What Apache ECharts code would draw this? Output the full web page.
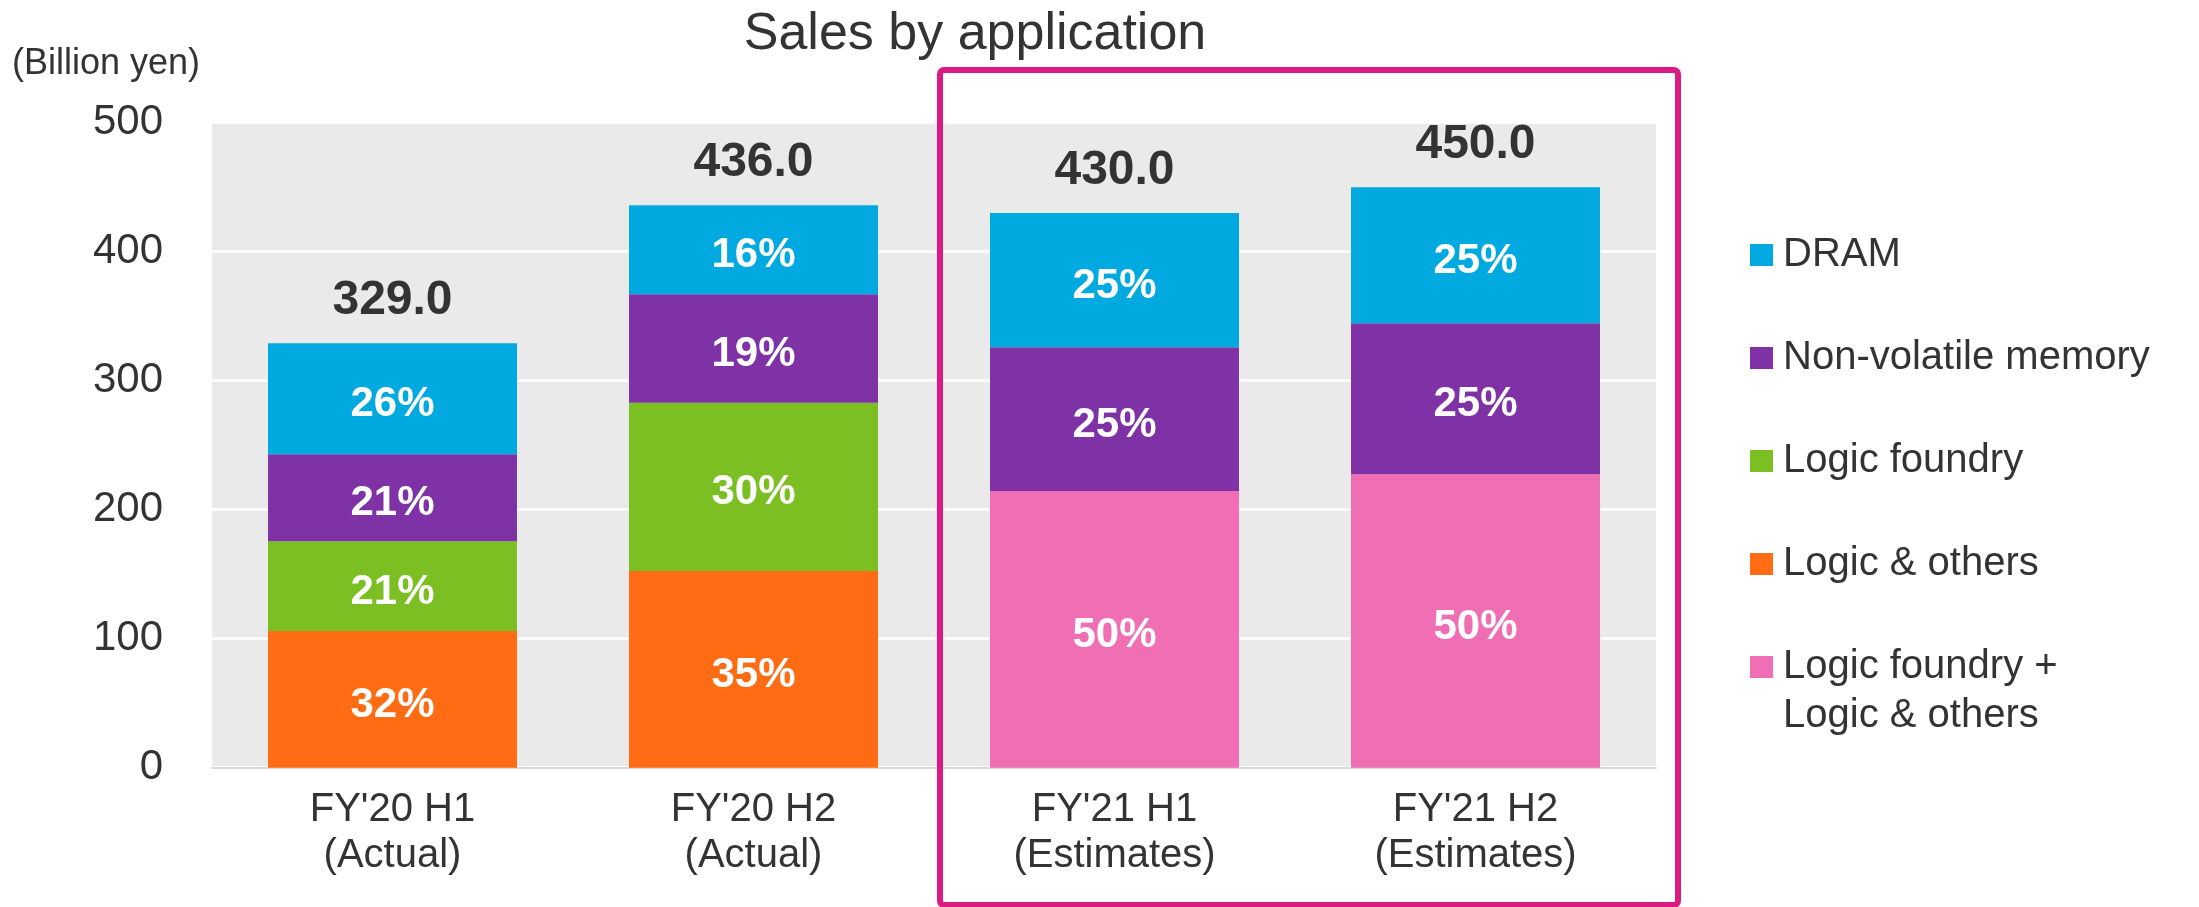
<!DOCTYPE html>
<html>
<head>
<meta charset="utf-8">
<title>Sales by application</title>
<script src="https://cdn.jsdelivr.net/npm/echarts@6/dist/echarts.min.js"></script>
<style>
  html, body { margin: 0; padding: 0; background: #fff; }
  #chart { width: 2199px; height: 907px; }
</style>
</head>
<body>
<div id="chart"></div>
<script>
  // categories and values (billion yen)
  var categories = ["FY'20 H1\n(Actual)", "FY'20 H2\n(Actual)", "FY'21 H1\n(Estimates)", "FY'21 H2\n(Estimates)"];
  var logicOthers = [106, 152.5, null, null];
  var logicFoundry = [69.5, 130.5, null, null];
  var logicCombined = [null, null, 214.5, 227.5];
  var nonVolatile = [67.5, 84, 111.5, 117];
  var dram = [86, 69, 104, 105.5];
  var totals = [329.0, 436.0, 430.0, 450.0];

  // shares printed on the bars (%)
  var logicOthersPct = [32, 35, null, null];
  var logicFoundryPct = [21, 30, null, null];
  var logicCombinedPct = [null, null, 50, 50];
  var nonVolatilePct = [21, 19, 25, 25];
  var dramPct = [26, 16, 25, 25];

  var yTicks = [0, 100, 200, 300, 400, 500];

  var FONT = '"Liberation Sans", Arial, sans-serif';
  var COMBINED = 'Logic foundry + Logic & others';

  function pctLabel(pcts) {
    return {
      show: true,
      position: 'inside',
      offset: [0, 6],
      color: '#fff',
      fontFamily: FONT,
      fontWeight: 'bold',
      fontSize: 42,
      formatter: function (p) { return pcts[p.dataIndex] == null ? '' : pcts[p.dataIndex] + '%'; }
    };
  }

  function barSeries(name, data, pcts, color) {
    return {
      name: name,
      type: 'bar',
      stack: 'sales',
      barWidth: 249,
      data: data,
      itemStyle: { color: color },
      label: pctLabel(pcts)
    };
  }

  var myChart = echarts.init(document.getElementById('chart'));
  myChart.setOption({
    animation: false,
    textStyle: { fontFamily: FONT },
    grid: {
      left: 212,
      right: 543,
      top: 122.7,
      bottom: 139.3,
      show: true,
      backgroundColor: '#EAEAEA',
      borderWidth: 0
    },
    legend: {
      orient: 'vertical',
      left: 1750,
      top: 231,
      padding: 0,
      itemWidth: 23,
      itemHeight: 22,
      itemGap: 55,
      icon: 'rect',
      data: ['DRAM', 'Non-volatile memory', 'Logic foundry', 'Logic & others', COMBINED],
      formatter: function (name) { return name === COMBINED ? 'Logic foundry +' : name; },
      textStyle: {
        fontFamily: FONT,
        fontSize: 40,
        lineHeight: 48,
        color: '#333',
        padding: [0, 0, 0, 5]
      }
    },
    xAxis: {
      type: 'category',
      data: categories,
      axisTick: { show: false },
      axisLine: { lineStyle: { color: '#D9D9D9', width: 2 } },
      axisLabel: {
        color: '#333',
        fontFamily: FONT,
        fontSize: 40,
        lineHeight: 46,
        margin: 19
      }
    },
    yAxis: {
      type: 'value',
      min: yTicks[0],
      max: yTicks[yTicks.length - 1],
      interval: 100,
      axisLine: { show: false },
      axisTick: { show: false },
      splitLine: { lineStyle: { color: '#FFFFFF', width: 2.5 } },
      axisLabel: {
        color: '#333',
        fontFamily: FONT,
        fontSize: 42,
        margin: 49
      }
    },
    graphic: [
      {
        type: 'text',
        x: 975,
        y: 35,
        style: {
          text: 'Sales by application',
          fontFamily: FONT,
          fontSize: 52,
          fill: '#333',
          align: 'center',
          verticalAlign: 'middle'
        }
      },
      {
        type: 'text',
        x: 12,
        y: 64,
        style: {
          text: '(Billion yen)',
          fontFamily: FONT,
          fontSize: 36,
          fill: '#333',
          align: 'left',
          verticalAlign: 'middle'
        }
      },
      {
        type: 'text',
        x: 1783,
        y: 716,
        style: {
          text: 'Logic & others',
          fontFamily: FONT,
          fontSize: 40,
          fill: '#333',
          align: 'left',
          verticalAlign: 'middle'
        }
      },
      {
        type: 'rect',
        z: 100,
        shape: { x: 940, y: 70, width: 738, height: 835, r: 4 },
        style: { fill: 'none', stroke: '#DC1A84', lineWidth: 6 }
      }
    ],
    series: [
      barSeries('Logic & others', logicOthers, logicOthersPct, '#FF6C14'),
      barSeries('Logic foundry', logicFoundry, logicFoundryPct, '#7BBF22'),
      barSeries(COMBINED, logicCombined, logicCombinedPct, '#F06EB4'),
      barSeries('Non-volatile memory', nonVolatile, nonVolatilePct, '#7F31A6'),
      barSeries('DRAM', dram, dramPct, '#00A9E0'),
      {
        name: 'Total',
        type: 'line',
        data: totals,
        symbol: 'circle',
        symbolSize: 1,
        itemStyle: { color: 'rgba(0,0,0,0)' },
        lineStyle: { opacity: 0 },
        silent: true,
        z: 10,
        label: {
          show: true,
          position: 'top',
          distance: 18,
          color: '#333',
          fontFamily: FONT,
          fontWeight: 'bold',
          fontSize: 48,
          lineHeight: 48,
          formatter: function (p) { return p.value.toFixed(1); }
        }
      }
    ]
  });
</script>
</body>
</html>
